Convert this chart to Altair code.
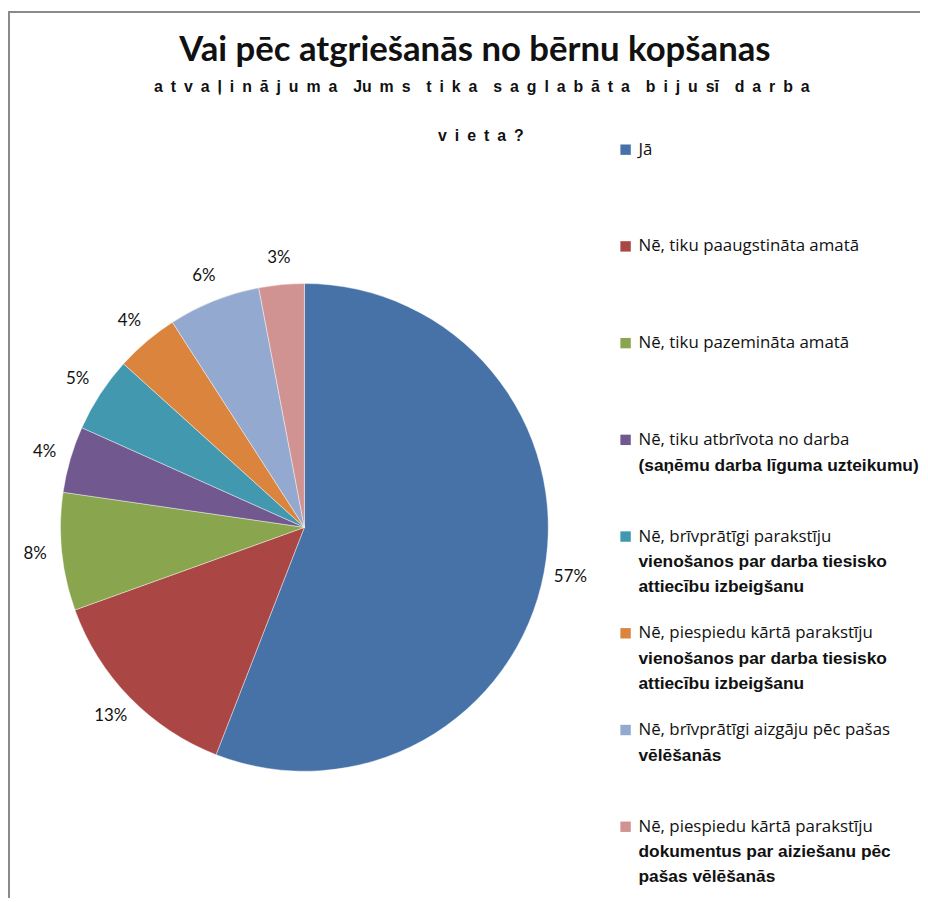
import altair as alt
import pandas as pd

# ---- data ----
categories = [
    "Jā",
    "Nē, tiku paaugstināta amatā",
    "Nē, tiku pazemināta amatā",
    "Nē, tiku atbrīvota no darba (saņēmu darba līguma uzteikumu)",
    "Nē, brīvprātīgi parakstīju vienošanos par darba tiesisko attiecību izbeigšanu",
    "Nē, piespiedu kārtā parakstīju vienošanos par darba tiesisko attiecību izbeigšanu",
    "Nē, brīvprātīgi aizgāju pēc pašas vēlēšanās",
    "Nē, piespiedu kārtā parakstīju dokumentus par aiziešanu pēc pašas vēlēšanās",
]
shares = [55.9, 13.6, 7.8, 4.4, 5.0, 4.2, 6.1, 3.0]
labels = ["57%", "13%", "8%", "4%", "5%", "4%", "6%", "3%"]
colors = ["#4672A8", "#AA4643", "#89A54E", "#71588F", "#4198AF", "#DB843D", "#93A9CF", "#D19392"]

legend_first = [
    "Jā",
    "Nē, tiku paaugstināta amatā",
    "Nē, tiku pazemināta amatā",
    "Nē, tiku atbrīvota no darba",
    "Nē, brīvprātīgi parakstīju",
    "Nē, piespiedu kārtā parakstīju",
    "Nē, brīvprātīgi aizgāju pēc pašas",
    "Nē, piespiedu kārtā parakstīju",
]
legend_bold = [
    [],
    [],
    [],
    ["(saņēmu darba līguma uzteikumu)"],
    ["vienošanos par darba tiesisko", "attiecību izbeigšanu"],
    ["vienošanos par darba tiesisko", "attiecību izbeigšanu"],
    ["vēlēšanās"],
    ["dokumentus par aiziešanu pēc", "pašas vēlēšanās"],
]

title_main = "Vai pēc atgriešanās no bērnu kopšanas"
title_sub1 = "a\u2002t\u2002v\u2002a\u2002ļ\u2002i\u2002n\u2002ā\u2002j\u2002u\u2002m\u2002a\u2002\u2002Ju\u2002m\u2002s\u2002\u2002t\u2002i\u2002k\u2002a\u2002\u2002s\u2002a\u2002g\u2002l\u2002a\u2002b\u2002ā\u2002t\u2002a\u2002\u2002b\u2002i\u2002j\u2002u\u2002sī\u2002\u2002d\u2002a\u2002r\u2002b\u2002a"
title_sub2 = "v\u2002i\u2002e\u2002t\u2002a\u2002?"

# ---- tables ----
pie_df = pd.DataFrame({"idx": list(range(len(categories))), "cat": categories,
                       "share": shares, "label": labels})
leg_df = pd.DataFrame({"idx": list(range(len(categories))), "cat": categories,
                       "first": legend_first})
bold_rows = []
for i, lines in enumerate(legend_bold):
    for k, t in enumerate(lines):
        bold_rows.append({"idx": i, "k": k + 1, "text": t})
bold_df = pd.DataFrame(bold_rows)

W, H = 920, 894
CX, CY, R = 299, 520, 246

color_scale = alt.Scale(domain=categories, range=colors)
y_leg = alt.Y("idx:Q", scale=alt.Scale(domain=[0, 7], range=[139, 822]), axis=None)

pie = alt.Chart(pie_df).mark_arc(outerRadius=R, stroke="white", strokeWidth=0.6, strokeOpacity=0.7).encode(
    theta=alt.Theta("share:Q", stack=True),
    order=alt.Order("idx:Q"),
    color=alt.Color("cat:N", scale=color_scale, legend=None),
    x=alt.value(CX), y=alt.value(CY),
)
pie_labels = alt.Chart(pie_df).mark_text(radius=273, font="Lato", fontSize=17, color="#111",
                                         align="center", baseline="middle").encode(
    theta=alt.Theta("share:Q", stack=True),
    order=alt.Order("idx:Q"),
    text="label:N",
    x=alt.value(CX), y=alt.value(CY),
)

leg_sq = alt.Chart(leg_df).mark_point(shape="square", filled=True, size=110, opacity=1).encode(
    x=alt.value(623), y=y_leg,
    color=alt.Color("cat:N", scale=color_scale, legend=None),
)
leg_txt = alt.Chart(leg_df).mark_text(font="Open Sans", fontSize=17, color="#111", align="left",
                                      baseline="middle").encode(
    x=alt.value(636), y=y_leg, text="first:N",
)
bold1 = alt.Chart(bold_df).transform_filter("datum.k == 1").mark_text(
    font="Liberation Sans", fontWeight="bold", fontSize=17.5, color="#111",
    align="left", baseline="middle", dy=26).encode(x=alt.value(636), y=y_leg, text="text:N")
bold2 = alt.Chart(bold_df).transform_filter("datum.k == 2").mark_text(
    font="Liberation Sans", fontWeight="bold", fontSize=17.5, color="#111",
    align="left", baseline="middle", dy=51).encode(x=alt.value(636), y=y_leg, text="text:N")

t_main = alt.Chart(pd.DataFrame({"t": [title_main]})).mark_text(
    font="Lato", fontWeight="bold", fontSize=35, color="#111", align="center", baseline="middle").encode(
    text="t:N", x=alt.value(471), y=alt.value(39))
t_sub1 = alt.Chart(pd.DataFrame({"t": [title_sub1]})).mark_text(
    font="Liberation Sans", fontWeight="bold", fontSize=16, color="#111", align="center", baseline="middle").encode(
    text="t:N", x=alt.value(478), y=alt.value(76))
t_sub2 = alt.Chart(pd.DataFrame({"t": [title_sub2]})).mark_text(
    font="Liberation Sans", fontWeight="bold", fontSize=16, color="#111", align="center", baseline="middle").encode(
    text="t:N", x=alt.value(477), y=alt.value(125))

frame_left = alt.Chart(pd.DataFrame({"a": [0]})).mark_rule(color="#8a8a8a", strokeWidth=2).encode(
    x=alt.value(1), y=alt.value(-1), y2=alt.value(H))
frame_top = alt.Chart(pd.DataFrame({"a": [0]})).mark_rule(color="#8a8a8a", strokeWidth=2).encode(
    x=alt.value(0), x2=alt.value(W), y=alt.value(0))

chart = alt.layer(
    pie, pie_labels, leg_sq, leg_txt, bold1, bold2, t_main, t_sub1, t_sub2, frame_left, frame_top
).properties(
    width=W, height=H, padding=0, autosize=alt.AutoSizeParams(type="none"), background="white"
).configure_view(stroke=None)

chart.save("out.html", embed_options={"renderer": "svg", "actions": False})
